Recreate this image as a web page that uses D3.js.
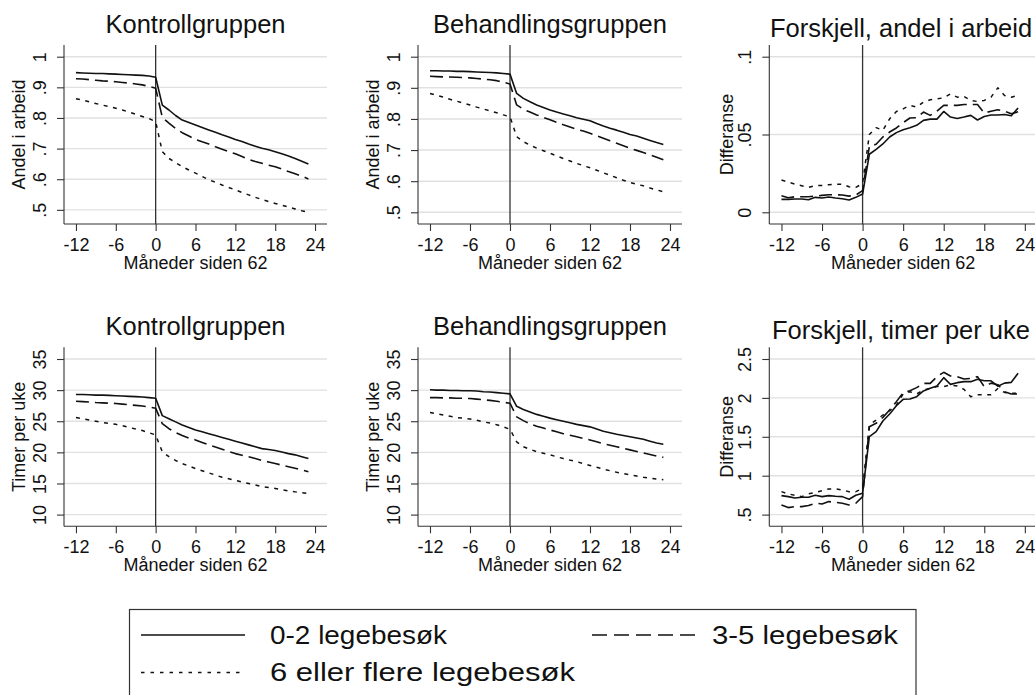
<!DOCTYPE html>
<html><head><meta charset="utf-8">
<script src="https://cdn.jsdelivr.net/npm/d3@7"></script>
<style>html,body{margin:0;padding:0;background:#fff;} svg{display:block;font-family:"Liberation Sans",Arial,Helvetica,sans-serif;}</style>
</head><body><svg id="c" width="1035" height="695"></svg>
<script>
// ---------- DATA ----------
const months = [-12,-11,-10,-9,-8,-7,-6,-5,-4,-3,-2,-1,0,1,2,3,4,5,6,7,8,9,10,11,12,13,14,15,16,17,18,19,20,21,22,23];
const xTicks = [-12,-6,0,6,12,18,24];
const seriesNames = ["0-2 legebesøk","3-5 legebesøk","6 eller flere legebesøk"];

const empTicks = [0.5,0.6,0.7,0.8,0.9,1];
const empTickLabels = [".5",".6",".7",".8",".9","1"];
const hrsTicks = [10,15,20,25,30,35];
const hrsTickLabels = ["10","15","20","25","30","35"];
const diffEmpTicks = [0,0.05,0.1];
const diffEmpTickLabels = ["0",".05",".1"];
const diffHrsTicks = [0.5,1,1.5,2,2.5];
const diffHrsTickLabels = [".5","1","1.5","2","2.5"];

// Kontrollgruppen, andel i arbeid
const ctrlEmp02 = [0.948,0.947,0.946,0.945,0.945,0.944,0.943,0.942,0.941,0.940,0.939,0.937,0.933,
  0.842,0.826,0.808,0.793,0.785,0.777,0.769,0.761,0.753,0.745,0.738,0.730,0.723,0.715,0.708,0.701,0.696,0.690,0.683,0.676,0.668,0.659,0.650];
const ctrlEmp35 = [0.928,0.927,0.925,0.923,0.921,0.920,0.918,0.916,0.914,0.911,0.908,0.903,0.897,
  0.802,0.783,0.766,0.752,0.741,0.730,0.722,0.715,0.706,0.698,0.690,0.683,0.674,0.665,0.658,0.652,0.646,0.641,0.633,0.625,0.618,0.610,0.601];
const ctrlEmp6 = [0.863,0.858,0.853,0.847,0.842,0.837,0.832,0.826,0.819,0.812,0.805,0.798,0.788,
  0.690,0.668,0.654,0.641,0.630,0.620,0.609,0.598,0.590,0.581,0.573,0.565,0.557,0.549,0.541,0.534,0.527,0.521,0.515,0.509,0.503,0.497,0.492];
// Behandlingsgruppen, andel i arbeid
const trtEmp02 = [0.955,0.955,0.954,0.954,0.953,0.953,0.952,0.951,0.950,0.949,0.948,0.946,0.944,
  0.882,0.866,0.855,0.845,0.837,0.829,0.822,0.816,0.810,0.804,0.799,0.794,0.785,0.777,0.770,0.764,0.757,0.750,0.745,0.738,0.731,0.724,0.718];
const trtEmp35 = [0.937,0.936,0.935,0.935,0.934,0.933,0.932,0.930,0.928,0.926,0.923,0.918,0.912,
  0.845,0.831,0.822,0.813,0.805,0.797,0.789,0.781,0.774,0.767,0.761,0.754,0.746,0.738,0.730,0.722,0.714,0.706,0.699,0.692,0.685,0.677,0.669];
const trtEmp6 = [0.882,0.876,0.870,0.863,0.857,0.851,0.845,0.838,0.832,0.826,0.820,0.813,0.807,
  0.743,0.727,0.716,0.706,0.698,0.690,0.681,0.673,0.665,0.657,0.650,0.643,0.635,0.627,0.619,0.611,0.603,0.596,0.590,0.585,0.578,0.572,0.566];
// Forskjell, andel i arbeid
const diffEmp02 = [0.0083,0.0083,0.0085,0.0085,0.0081,0.0096,0.0092,0.0098,0.0092,0.0087,0.0079,0.0096,0.0117,
  0.0373,0.0405,0.0439,0.0484,0.0512,0.0531,0.0544,0.0559,0.0591,0.0599,0.0599,0.0648,0.0612,0.0603,0.0612,0.0623,0.0593,0.0616,0.0625,0.0625,0.0629,0.0620,0.0670];
const diffEmp35 = [0.0107,0.0094,0.0100,0.0100,0.0100,0.0104,0.0109,0.0113,0.0113,0.0111,0.0104,0.0111,0.0139,
  0.0424,0.0437,0.0484,0.0516,0.0542,0.0576,0.0606,0.0608,0.0644,0.0623,0.0650,0.0687,0.0687,0.0687,0.0693,0.0693,0.0693,0.0638,0.0650,0.0659,0.0650,0.0633,0.0646];
const diffEmp6 = [0.0207,0.0194,0.0181,0.0171,0.0160,0.0171,0.0173,0.0177,0.0181,0.0181,0.0164,0.0160,0.0185,
  0.0500,0.0544,0.0527,0.0601,0.0648,0.0665,0.0687,0.0676,0.0708,0.0723,0.0729,0.0736,0.0761,0.0740,0.0744,0.0719,0.0712,0.0719,0.0740,0.0800,0.0751,0.0740,0.0751];
// Kontrollgruppen, timer per uke
const ctrlHrs02 = [29.3,29.3,29.25,29.2,29.2,29.15,29.1,29.05,29.0,28.95,28.9,28.8,28.7,
  25.9,25.4,24.9,24.4,24.0,23.6,23.3,23.0,22.7,22.4,22.1,21.8,21.5,21.2,20.9,20.6,20.45,20.3,20.05,19.8,19.6,19.3,19.0];
const ctrlHrs35 = [28.2,28.15,28.1,28.0,27.95,27.9,27.85,27.75,27.65,27.55,27.45,27.3,27.1,
  24.6,23.8,23.2,22.7,22.3,22.0,21.6,21.2,20.85,20.5,20.15,19.8,19.55,19.3,19.0,18.7,18.45,18.2,17.95,17.7,17.45,17.2,16.9];
const ctrlHrs6 = [25.6,25.4,25.2,25.0,24.8,24.65,24.5,24.3,24.0,23.75,23.5,23.15,22.8,
  20.1,19.3,18.7,18.2,17.8,17.4,17.05,16.7,16.35,16.0,15.75,15.5,15.25,15.0,14.75,14.5,14.35,14.2,14.0,13.8,13.65,13.5,13.4];
// Behandlingsgruppen, timer per uke
const trtHrs02 = [30.05,30.0,30.0,29.95,29.95,29.9,29.9,29.85,29.75,29.7,29.6,29.5,29.4,
  27.4,26.9,26.5,26.1,25.8,25.5,25.25,25.0,24.75,24.5,24.3,24.1,23.75,23.4,23.15,22.9,22.7,22.5,22.3,22.1,21.8,21.5,21.3];
const trtHrs35 = [28.8,28.8,28.75,28.75,28.7,28.7,28.65,28.55,28.45,28.35,28.2,28.05,27.9,
  25.7,25.1,24.6,24.2,23.9,23.6,23.3,23.0,22.75,22.5,22.25,22.0,21.7,21.4,21.15,20.9,20.65,20.4,20.15,19.9,19.65,19.4,19.2];
const trtHrs6 = [26.4,26.2,26.0,25.8,25.6,25.5,25.35,25.15,24.9,24.7,24.45,24.1,23.7,
  21.7,20.9,20.5,20.1,19.85,19.6,19.3,19.0,18.75,18.5,18.2,17.9,17.6,17.3,17.05,16.8,16.6,16.4,16.2,16.0,15.85,15.7,15.6];
// Forskjell, timer per uke
const diffHrs02 = [0.744,0.731,0.714,0.723,0.723,0.748,0.731,0.744,0.736,0.731,0.697,0.748,0.774,
  1.502,1.566,1.703,1.793,1.900,1.982,1.986,2.016,2.089,2.123,2.153,2.260,2.174,2.196,2.209,2.209,2.239,2.220,2.220,2.150,2.190,2.200,2.316];
const diffHrs35 = [0.624,0.590,0.603,0.603,0.616,0.646,0.637,0.667,0.658,0.646,0.624,0.646,0.731,
  1.630,1.673,1.750,1.845,1.952,2.067,2.093,2.132,2.187,2.187,2.273,2.329,2.282,2.273,2.243,2.250,2.273,2.145,2.190,2.170,2.080,2.050,2.050];
const diffHrs6 = [0.795,0.766,0.748,0.731,0.766,0.783,0.808,0.830,0.830,0.817,0.795,0.795,0.838,
  1.652,1.716,1.780,1.836,1.909,2.050,2.080,2.050,2.100,2.123,2.145,2.145,2.166,2.153,2.110,2.016,2.040,2.040,2.040,2.120,2.070,2.060,2.060];

// ---------- LAYOUT ----------
const svg = d3.select("#c");
const FONT = '"Liberation Sans",Arial,Helvetica,sans-serif';
const cols = [
  {axisX:64, xEnd:327, titleX:195.5, titleDy:0, ytOff:39},
  {axisX:418, xEnd:682, titleX:550, titleDy:0, ytOff:39},
  {axisX:769.3, xEnd:1037, titleX:901, titleDy:4.5, ytOff:36}
];
const rows = [{innerTop:56.7, innerBot:212.3},{innerTop:359, innerBot:514.6}];
const pad = 11.7;
const lineStyles = [
  {dash:null, w:1.6},
  {dash:"13,6", w:1.6},
  {dash:"4,5.5", w:1.5}
];

const panels = [
  {col:0,row:0,title:"Kontrollgruppen",ytitle:"Andel i arbeid",ticks:empTicks,labels:empTickLabels,series:[ctrlEmp02,ctrlEmp35,ctrlEmp6]},
  {col:1,row:0,title:"Behandlingsgruppen",ytitle:"Andel i arbeid",ticks:empTicks,labels:empTickLabels,series:[trtEmp02,trtEmp35,trtEmp6]},
  {col:2,row:0,title:"Forskjell, andel i arbeid",ytitle:"Differanse",ticks:diffEmpTicks,labels:diffEmpTickLabels,series:[diffEmp02,diffEmp35,diffEmp6]},
  {col:0,row:1,title:"Kontrollgruppen",ytitle:"Timer per uke",ticks:hrsTicks,labels:hrsTickLabels,series:[ctrlHrs02,ctrlHrs35,ctrlHrs6]},
  {col:1,row:1,title:"Behandlingsgruppen",ytitle:"Timer per uke",ticks:hrsTicks,labels:hrsTickLabels,series:[trtHrs02,trtHrs35,trtHrs6]},
  {col:2,row:1,title:"Forskjell, timer per uke",ytitle:"Differanse",ticks:diffHrsTicks,labels:diffHrsTickLabels,series:[diffHrs02,diffHrs35,diffHrs6]}
];

panels.forEach(p => {
  const c = cols[p.col], r = rows[p.row];
  const g = svg.append("g");
  const x = d3.scaleLinear().domain([-13.8, 25.8]).range([c.axisX, c.xEnd]);
  const all = p.series.flat().concat(p.ticks);
  const y = d3.scaleLinear().domain([d3.min(all), d3.max(all)]).range([r.innerBot, r.innerTop]);
  const top = r.innerTop - pad, bot = r.innerBot + pad;

  // gridlines
  g.append("g").selectAll("line").data(p.ticks).join("line")
    .attr("x1", c.axisX).attr("x2", c.xEnd)
    .attr("y1", d => y(d)).attr("y2", d => y(d))
    .attr("stroke", "#e1e1e1").attr("stroke-width", 1.4);

  // x axis
  const xAxis = d3.axisBottom(x).tickValues(xTicks).tickSize(7).tickPadding(4).tickFormat(d => String(d));
  const xa = g.append("g").attr("transform", `translate(0,${bot})`).call(xAxis);
  xa.select(".domain").attr("d", `M${c.axisX},0H${c.xEnd}`).attr("stroke", "#333").attr("stroke-width", 1.1);
  xa.selectAll(".tick line").attr("stroke", "#333").attr("stroke-width", 1.1);
  xa.selectAll(".tick text").attr("font-size", 18).attr("font-family", FONT).attr("fill", "#111")
    .attr("dy", null).attr("y", 26.8);

  // y axis
  const yAxis = d3.axisLeft(y).tickValues(p.ticks).tickSize(7).tickFormat((d,i) => p.labels[i]);
  const ya = g.append("g").attr("transform", `translate(${c.axisX},0)`).call(yAxis);
  ya.select(".domain").attr("d", `M0,${top}V${bot}`).attr("stroke", "#333").attr("stroke-width", 1.1);
  ya.selectAll(".tick line").attr("stroke", "#333").attr("stroke-width", 1.1);
  ya.selectAll(".tick text").attr("font-size", 18).attr("font-family", FONT).attr("fill", "#111")
    .attr("x", null).attr("dy", null).attr("text-anchor", "middle")
    .attr("transform", "translate(-18.5,0) rotate(-90)");

  // vertical reference line at 0
  g.append("line").attr("x1", x(0)).attr("x2", x(0)).attr("y1", top).attr("y2", bot)
    .attr("stroke", "#333").attr("stroke-width", 1.3);

  // series
  const line = d3.line().x((v,i) => x(months[i])).y(v => y(v));
  p.series.forEach((s, k) => {
    g.append("path").datum(s).attr("d", line).attr("fill", "none")
      .attr("stroke", "#111").attr("stroke-width", lineStyles[k].w)
      .attr("stroke-dasharray", lineStyles[k].dash).attr("stroke-linejoin", "round");
  });

  // titles
  g.append("text").attr("x", c.titleX).attr("y", r.innerTop - 24.2 + c.titleDy)
    .attr("text-anchor", "middle").attr("font-size", 25.5).attr("font-family", FONT).attr("fill", "#111")
    .text(p.title);
  g.append("text").attr("x", x(6)).attr("y", bot + 45)
    .attr("text-anchor", "middle").attr("font-size", 18).attr("font-family", FONT).attr("fill", "#111")
    .text("Måneder siden 62");
  g.append("text").attr("transform", `translate(${c.axisX - c.ytOff},${(top + bot) / 2}) rotate(-90)`)
    .attr("text-anchor", "middle").attr("font-size", 18).attr("font-family", FONT).attr("fill", "#111")
    .text(p.ytitle);
});

// ---------- LEGEND ----------
const lg = svg.append("g");
lg.append("rect").attr("x", 129.5).attr("y", 609.5).attr("width", 786.5).attr("height", 120)
  .attr("fill", "none").attr("stroke", "#333").attr("stroke-width", 1.2);
const legendItems = [
  {x1:141, x2:245, tx:270, y:635, len:177},
  {x1:592, x2:696, tx:712, y:635, len:186},
  {x1:141, x2:245, tx:270, y:672.5, len:305}
];
const legendDash = [null, "15,7", "3.5,6"];
legendItems.forEach((it, k) => {
  lg.append("line").attr("x1", it.x1).attr("x2", it.x2).attr("y1", it.y).attr("y2", it.y)
    .attr("stroke", "#111").attr("stroke-width", 1.7).attr("stroke-dasharray", legendDash[k]);
  lg.append("text").attr("x", it.tx).attr("y", it.y).attr("dy", "0.35em")
    .attr("font-size", 25).attr("font-family", FONT).attr("fill", "#111")
    .attr("textLength", it.len).attr("lengthAdjust", "spacingAndGlyphs")
    .text(seriesNames[k]);
});
</script></body></html>
